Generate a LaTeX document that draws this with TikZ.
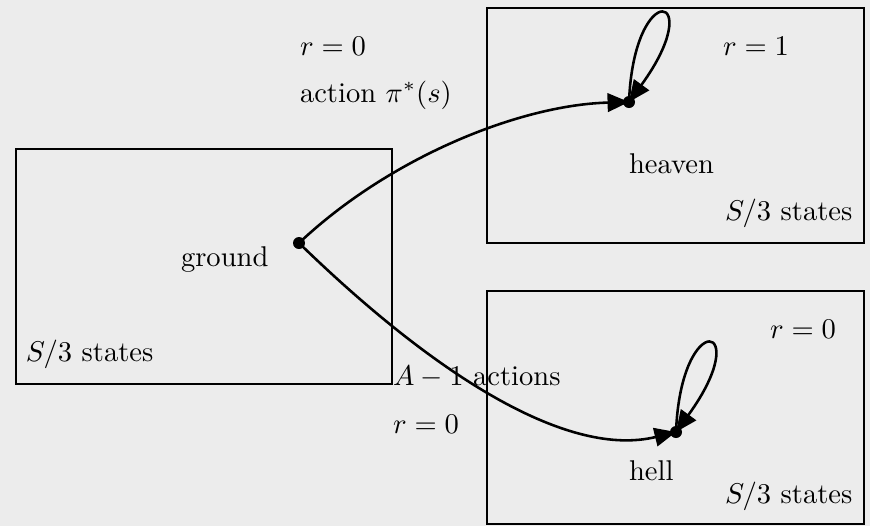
\documentclass[tikz,border=0pt]{standalone}
\usetikzlibrary{arrows.meta}
\definecolor{bgc}{RGB}{236,236,236}
\begin{document}
\begin{tikzpicture}[x=0.35pt,y=-0.35pt,
  regionbox/.style={draw=black,line width=0.7pt},
  txt/.style={anchor=base west,inner sep=0pt,outer sep=0pt},
  conn/.style={line width=0.9pt,-{Triangle[length=7.5pt,width=6.5pt]}},
  dotmark/.style={circle,fill=black,inner sep=0pt,minimum size=4.2pt}]
\fill[bgc] (0,0) rectangle (870,526);
\useasboundingbox (0,0) rectangle (870,526);
% boxes
\draw[regionbox] (16,149) rectangle (392,384);
\draw[regionbox] (487,8) rectangle (864,243);
\draw[regionbox] (487,291) rectangle (864,524);
% state points
\coordinate (g) at (299,243);
\coordinate (h) at (629,102);
\coordinate (l) at (676,432);
% connectors
\draw[conn] (g) .. controls (389,158) and (519,105) .. (h);
\draw[conn] (g) .. controls (440,380) and (570,458) .. (l);
\draw[conn] (h) .. controls +(5,-126) and +(80,-110) .. (h);
\draw[conn] (l) .. controls +(5,-126) and +(80,-110) .. (l);
\node[dotmark] (gd) at (g) {};
\node[dotmark] (hd) at (h) {};
\node[dotmark] (ld) at (l) {};
% labels
\node[txt] (t1) at (300,55) {$r=0$};
\node[txt] (t2) at (300,102) {action $\pi^*(s)$};
\node[txt] (t3) at (723,55) {$r=1$};
\node[txt] (t4) at (629,173) {heaven};
\node[txt] (t5) at (725,220) {$S/3$ states};
\node[txt] (t6) at (181,266) {ground};
\node[txt] (t7) at (26,361) {$S/3$ states};
\node[txt] (t8) at (770,338) {$r=0$};
\node[txt] (t9) at (393,385) {$A-1$ actions};
\node[txt] (t10) at (393,433) {$r=0$};
\node[txt] (t11) at (629,480) {hell};
\node[txt] (t12) at (725,503) {$S/3$ states};
\end{tikzpicture}
\end{document}
